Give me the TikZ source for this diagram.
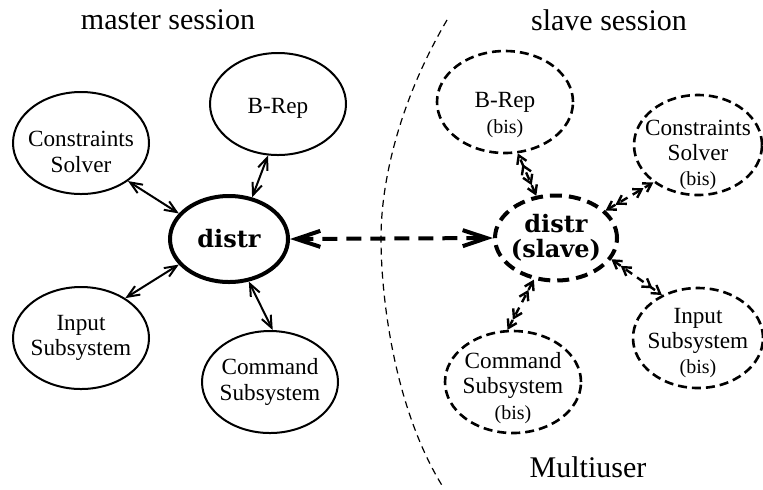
\documentclass[tikz,border=0pt]{standalone}
\usepackage{fontspec}
\setmainfont{Liberation Serif}
\newfontfamily\slabfont{DejaVu Serif}
\usepackage{tikz}
\usetikzlibrary{shapes.geometric, arrows.meta}

\newcommand{\bis}{{\fontsize{10}{11}\selectfont (bis)}}

\begin{document}
\begin{tikzpicture}[x=0.5pt, y=-0.5pt,
  module/.style={ellipse, draw, line width=1pt, inner sep=-3pt, align=center,
    minimum width=68pt, minimum height=51pt, font=\fontsize{11.6}{12.6}\selectfont},
  hub/.style={module, line width=2pt, minimum width=59pt, minimum height=43pt,
    font=\slabfont\bfseries\fontsize{12}{12.5}\selectfont},
  copymod/.style={module, line width=1.3pt, dash pattern=on 4.5pt off 2.5pt},
  copyhub/.style={hub, dash pattern=on 6pt off 3.5pt, minimum width=61pt, minimum height=42.5pt},
  every label/.style={align=center, inner sep=0pt, font=\fontsize{11.6}{12.6}\selectfont},
  link/.style={line width=1pt, {Straight Barb[length=6pt,width=5pt]}-{Straight Barb[length=6pt,width=5pt]}},
  copylink/.style={line width=1.2pt, dash pattern=on 4pt off 3pt,
    {Straight Barb[length=4pt,width=5pt] Straight Barb[length=4pt,width=5pt]}-{Straight Barb[length=4pt,width=5pt] Straight Barb[length=4pt,width=5pt]}},
  biglink/.style={line width=2pt, dash pattern=on 7.5pt off 4.5pt,
    {Straight Barb[length=12pt,width=8pt]}-{Straight Barb[length=12pt,width=8pt]}},
  title/.style={font=\fontsize{15}{16}\selectfont}]

\useasboundingbox (0,0) rectangle (763,489);

% master session
\node[title] (mtitle) at (168,20) {master session};
\node[module, label={[yshift=-2pt]center:B-Rep}] (brep) at (278,104) {};
\node[module, label={[yshift=-4.5pt]center:{Constraints\\Solver}}] (solver) at (81,143) {};
\node[hub] (distr) at (229,239) {distr};
\node[module] (input) at (81,338) {Input\\Subsystem};
\node[module] (command) at (270,382) {Command\\Subsystem};

\draw[link] (distr.153) -- (solver.-39);
\draw[link] (distr.61) -- (brep.259);
\draw[link] (distr.207) -- (input.42);
\draw[link] (distr.-65) -- (command.87);

% slave session
\node[title] (stitle) at (609,20) {slave session};
\node[copymod, label={[yshift=-6.5pt]center:{B-Rep\\\bis}}] (brepbis) at (505,102) {};
\node[copymod, minimum width=64pt, minimum height=50pt,
  label={[yshift=-5pt]center:{Constraints\\Solver\\\bis}}] (solverbis) at (698,145) {};
\node[copyhub, align=center] (slave) at (556,238) {distr\\(slave)};
\node[copymod, minimum width=65pt, minimum height=50pt,
  label={[yshift=-2.5pt]center:{Input\\Subsystem\\\bis}}] (inputbis) at (698,338) {};
\node[copymod, label={[yshift=-3pt]center:{Command\\Subsystem\\\bis}}] (commandbis) at (513,382) {};
\node[title] (multi) at (588,467) {Multiuser};

\draw[copylink] (slave.115) -- (brepbis.-76);
\draw[copylink] (slave.29) -- (solverbis.220);
\draw[copylink] (slave.-21) -- (inputbis.130);
\draw[copylink] (slave.242) -- (commandbis.96);

\draw[biglink] (distr.east) -- (slave.west);

% border between the sessions
\draw[line width=0.6pt, dash pattern=on 3.5pt off 2.5pt]
  (447,20) .. controls (400,100) and (381,180) .. (381,238)
  .. controls (381,300) and (395,410) .. (443,487);

\end{tikzpicture}
\end{document}
